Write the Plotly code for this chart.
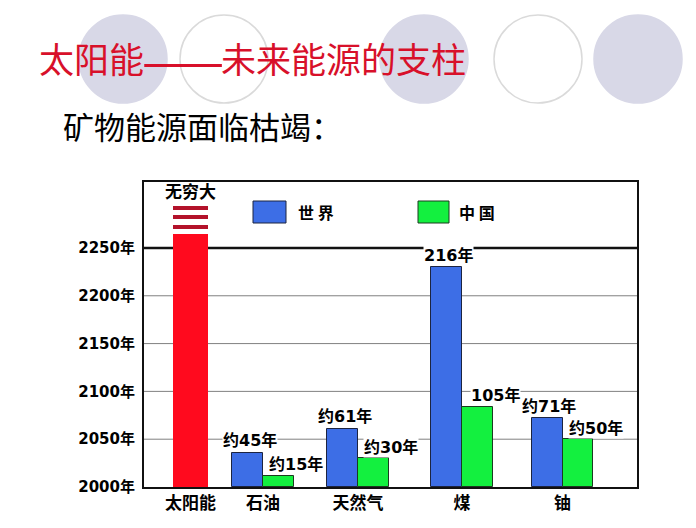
import plotly.graph_objects as go

# 数据（从图上读出的柱高，单位：年，起点 2000 年）
categories = ['太阳能', '石油', '天然气', '煤', '铀']
solar_years = 265
world_years = [36, 61, 230, 72]
china_years = [12, 30, 84, 50]
world_labels = ['约45年', '约61年', '216年', '约71年']
china_labels = ['约15年', '约30年', '105年', '约50年']
y_ticks = [2000, 2050, 2100, 2150, 2200, 2250]
y_ticktext = ['2000年', '2050年', '2100年', '2150年', '2200年', '2250年']
stripe_base = [2270, 2280, 2290]
stripe_height = [4.5, 4.5, 4]

BASE = 2000
# 各类别在横轴上的位置（横轴范围 0~5.3）
cat_pos = [0.5, 1.28, 2.3, 3.42, 4.5]
bw = 0.33

# 绘图区在页面上的像素位置
L, T, R, B = 144, 182, 637, 487


def px(x):
    return (x - L) / (R - L)


def py(y):
    return (B - y) / (B - T)


BLUE = '#3d6ee6'
GREEN = '#13f03f'
RED = '#ff0a1e'
TITLE_RED = '#d8102a'
CJK = 'Noto Sans CJK SC'
BOLD_FONT = 'DejaVu Sans, Noto Sans CJK SC'

fig = go.Figure()

fig.add_trace(go.Bar(
    x=[cat_pos[0]], y=[solar_years], base=BASE, width=0.376,
    marker=dict(color=RED, line=dict(width=0)), showlegend=False))

fig.add_trace(go.Bar(
    x=[cat_pos[0]] * len(stripe_base), y=stripe_height, base=stripe_base,
    width=0.376, marker=dict(color='#b3122a', line=dict(width=0)),
    showlegend=False))

fig.add_trace(go.Bar(
    x=cat_pos[1:], y=world_years, base=BASE, width=bw, offset=-bw,
    marker=dict(color=BLUE, line=dict(color='#1c2440', width=1)),
    name='世界', showlegend=False))

fig.add_trace(go.Bar(
    x=cat_pos[1:], y=china_years, base=BASE, width=bw, offset=0,
    marker=dict(color=GREEN, line=dict(color='#1c3a20', width=1)),
    name='中国', showlegend=False))

annotations = []
for xp, v, t in zip(cat_pos[1:], world_years, world_labels):
    annotations.append(dict(
        x=xp - bw / 2, y=BASE + v, text='<b>%s</b>' % t, showarrow=False,
        xshift=2, yanchor='middle', yshift=12, bgcolor='white', borderpad=0,
        font=dict(family=BOLD_FONT, size=16, color='black')))
for xp, v, t in zip(cat_pos[1:], china_years, china_labels):
    annotations.append(dict(
        x=xp + bw / 2, y=BASE + v, text='<b>%s</b>' % t, showarrow=False,
        xshift=18, yanchor='middle', yshift=11, bgcolor='white', borderpad=0,
        font=dict(family=BOLD_FONT, size=16, color='black')))

annotations.append(dict(
    x=cat_pos[0], y=stripe_base[-1] + stripe_height[-1], text='<b>无穷大</b>',
    showarrow=False, yanchor='bottom', yshift=1,
    font=dict(family=CJK, size=17, color='black')))

# 图例（手绘方块）
annotations += [
    dict(xref='paper', yref='paper', x=px(296), y=py(212), xanchor='left',
         yanchor='middle', text='<b>世 界</b>', showarrow=False,
         font=dict(family=CJK, size=16, color='black')),
    dict(xref='paper', yref='paper', x=px(457), y=py(212), xanchor='left',
         yanchor='middle', text='<b>中 国</b>', showarrow=False,
         font=dict(family=CJK, size=16, color='black')),
]

# 标题（破折号单独放大，使其与原图一样长）
annotations += [
    dict(xref='paper', yref='paper', x=px(37), y=py(58), xanchor='left',
         yanchor='middle', text='太阳能', showarrow=False,
         font=dict(family=CJK, size=35, color=TITLE_RED)),
    dict(xref='paper', yref='paper', x=px(140), y=py(58), xanchor='left',
         yanchor='middle', text='——', showarrow=False,
         font=dict(family=CJK, size=49, color=TITLE_RED)),
    dict(xref='paper', yref='paper', x=px(219), y=py(58), xanchor='left',
         yanchor='middle', text='未来能源的支柱', showarrow=False,
         font=dict(family=CJK, size=35, color=TITLE_RED)),
    dict(xref='paper', yref='paper', x=px(61), y=py(125), xanchor='left',
         yanchor='middle', text='矿物能源面临枯竭：', showarrow=False,
         font=dict(family=CJK, size=31, color='black')),
]

shapes = []


def circle(cx, cy, r, fill, line):
    return dict(type='circle', xref='paper', yref='paper',
                x0=px(cx - r), x1=px(cx + r), y0=py(cy + r), y1=py(cy - r),
                fillcolor=fill, line=dict(color=line, width=1.5), layer='below')


shapes += [
    circle(123, 59, 44, '#d8d8e7', '#d8d8e7'),
    circle(224, 59, 44, 'rgba(0,0,0,0)', '#dadada'),
    circle(424, 59, 44, '#d8d8e7', '#d8d8e7'),
    circle(538, 59, 44, 'rgba(0,0,0,0)', '#dadada'),
    circle(638, 59, 44, '#d8d8e7', '#d8d8e7'),
]

shapes += [
    dict(type='rect', xref='paper', yref='paper', x0=px(253), x1=px(286),
         y0=py(223), y1=py(201), fillcolor=BLUE, line=dict(color='#1c2440', width=1)),
    dict(type='rect', xref='paper', yref='paper', x0=px(418), x1=px(449),
         y0=py(223), y1=py(201), fillcolor=GREEN, line=dict(color='#1c3a20', width=1)),
]

# 网格线：中间几条灰色细线，2250 年一条黑色粗线
for yv in y_ticks[1:-1]:
    shapes.append(dict(type='line', xref='paper', yref='y', x0=0, x1=1,
                       y0=yv, y1=yv, line=dict(color='#808080', width=1),
                       layer='below'))
shapes.append(dict(type='line', xref='paper', yref='y', x0=0, x1=1,
                   y0=y_ticks[-1], y1=y_ticks[-1],
                   line=dict(color='#111111', width=2.5), layer='below'))

fig.update_layout(
    width=696, height=528,
    margin=dict(l=L, r=696 - R, t=T, b=528 - B),
    paper_bgcolor='white', plot_bgcolor='white',
    barmode='overlay', bargap=0,
    annotations=annotations, shapes=shapes,
    showlegend=False,
)

fig.update_xaxes(
    range=[0, 5.3], tickvals=cat_pos,
    ticktext=['<b>%s</b>' % c for c in categories],
    tickfont=dict(family=CJK, size=17, color='black'),
    showgrid=False, zeroline=False, showline=True, linecolor='#111111',
    linewidth=2, mirror=True, ticks='', fixedrange=True)

fig.update_yaxes(
    range=[BASE, 2319], tickvals=y_ticks,
    ticktext=['<b>%s</b>' % t for t in y_ticktext],
    tickfont=dict(family=BOLD_FONT, size=15, color='black'),
    showgrid=False, zeroline=False,
    showline=True, linecolor='#111111', linewidth=2, mirror=True,
    ticks='', ticklabelstandoff=4, fixedrange=True)

fig.write_html("out.html", config={'displayModeBar': False},
               post_script="document.body.style.margin='0';")
